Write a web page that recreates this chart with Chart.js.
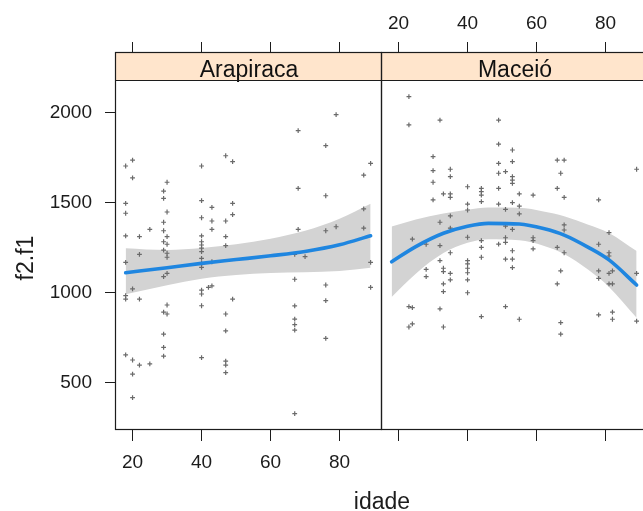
<!DOCTYPE html>
<html><head><meta charset="utf-8">
<script src="https://cdn.jsdelivr.net/npm/chart.js@4.4.1/dist/chart.umd.min.js"></script>
<style>
html,body{margin:0;padding:0;background:#fff;overflow:hidden;width:643px;height:511px}
#wrap{position:relative;width:643px;height:511px;overflow:hidden;background:#fff}
#c{position:absolute;left:0;top:0;width:660px;height:511px}
</style></head>
<body><div id="wrap"><canvas id="c" width="660" height="511"></canvas></div>
<script>
// ---------- data ----------
const panelNames = ['Arapiraca', 'Maceió'];
const xTicks = [20, 40, 60, 80];
const yTicks = [500, 1000, 1500, 2000];
const xTitle = 'idade';
const yTitle = 'f2.f1';

const ageArapiraca = [79,68,76,47,49,20,18,40,89,20,87,30,68,29,29,76,18,40,49,43,18,30,49,87,40,43,47,29,25,29,43,18,22,30,40,47,68,76,79,87,29,30,40,40,40,40,47,22,29,30,30,40,40,40,43,67,70,18,29,30,89,67,76,89,20,40,40,42,43,18,18,22,49,76,40,30,67,29,30,47,67,67,67,47,29,76,29,29,18,20,22,25,40,47,47,47,20,20,67];
const f2f1Arapiraca = [1987,1898,1815,1759,1726,1735,1702,1702,1717,1636,1652,1612,1578,1563,1523,1537,1495,1510,1495,1473,1440,1447,1432,1464,1415,1397,1397,1390,1351,1343,1351,1315,1310,1310,1315,1310,1351,1343,1365,1357,1282,1268,1282,1264,1246,1227,1260,1212,1236,1218,1196,1190,1162,1140,1171,1212,1199,1168,1088,1107,1168,1074,1042,1029,1020,1014,992,1029,1037,983,964,964,964,955,927,931,926,892,881,881,853,822,792,787,769,746,696,647,654,626,597,604,639,620,598,556,548,417,328];

const ageMaceio = [23,23,32,49,49,53,30,30,30,30,35,35,33,35,35,49,53,49,51,53,53,53,66,68,67,66,68,40,44,44,44,40,40,44,49,49,51,53,55,55,55,59,78,89,35,32,24,28,35,40,44,44,44,49,51,53,51,51,53,53,51,53,59,59,59,66,68,68,68,32,35,32,33,33,35,35,28,28,33,33,40,40,40,40,40,40,67,66,81,78,81,81,78,78,81,82,81,82,89,23,24,32,23,24,33,44,51,55,67,67,78,82,82,89];
const f2f1Maceio = [2087,1930,1957,1957,1824,1791,1754,1676,1612,1514,1684,1643,1547,1547,1528,1717,1726,1662,1671,1643,1624,1606,1735,1735,1662,1578,1528,1587,1578,1560,1541,1491,1458,1504,1578,1491,1462,1499,1547,1480,1436,1541,1514,1684,1425,1390,1296,1268,1357,1307,1288,1251,1196,1269,1369,1351,1304,1279,1232,1185,1185,1138,1304,1288,1242,1251,1375,1347,1221,1260,1221,1177,1135,1116,1107,1070,1129,1088,1048,1005,1177,1159,1135,1110,1070,999,1120,1048,1332,1268,1221,1203,1120,1079,1107,1120,1048,1048,1107,922,916,909,809,826,809,866,922,852,833,769,876,892,852,842];

const fitAgeArapiraca = [18,30,40,50,60,70,80,89];
const fitArapiraca   = [1110,1138,1162,1183,1204,1228,1265,1315];
const upperArapiraca = [1246,1236,1247,1268,1299,1343,1410,1493];
const lowerArapiraca = [990,1040,1077,1098,1109,1113,1120,1137];

const fitAgeMaceio = [18,25,33,40,46,55,62,68,75,81,89];
const fitMaceio    = [1171,1255,1329,1368,1384,1380,1355,1319,1251,1181,1042];
const upperMaceio  = [1366,1405,1439,1460,1472,1470,1450,1424,1376,1331,1230];
const lowerMaceio  = [976,1105,1219,1276,1296,1290,1260,1214,1126,1031,860];

// ---------- styles ----------
const FONT = "'Liberation Sans', Arial, Helvetica, sans-serif";
const INK = '#1c1c1c';
const POINT = '#6a6a6a';
const LINE = '#1f86e0';
const BAND = '#d3d3d3';
const STRIP = '#ffe5cc';
const STRIP_H = 28;

const pts = (xs, ys) => xs.map((x, i) => ({x: x, y: ys[i]}));

function pointSet(xs, ys, axis) {
  return {type: 'scatter', data: pts(xs, ys), xAxisID: axis, yAxisID: 'y', order: 2,
    pointStyle: 'cross', pointRadius: 2.4, pointBorderWidth: 1.2, pointBorderColor: POINT,
    pointBackgroundColor: POINT, showLine: false};
}
function bandSet(xs, ys, axis, fill) {
  return {type: 'line', data: pts(xs, ys), xAxisID: axis, yAxisID: 'y', order: 3,
    borderWidth: 0, borderColor: BAND, backgroundColor: BAND, pointRadius: 0,
    tension: 0.4, cubicInterpolationMode: 'monotone', fill: fill};
}
function lineSet(xs, ys, axis) {
  return {type: 'line', data: pts(xs, ys), xAxisID: axis, yAxisID: 'y', order: 1,
    borderWidth: 3.6, borderColor: LINE, pointRadius: 0, fill: false,
    cubicInterpolationMode: 'monotone', borderCapStyle: 'round'};
}

function xScale(pos, stack, showLabels, pad, weight) {
  return {
    type: 'linear', position: pos, stack: stack, weight: weight, min: 15.2, max: 92.3,
    afterBuildTicks: s => { s.ticks = xTicks.map(v => ({value: v})); },
    afterFit: s => { s.height = pos === 'top' ? 53 : 81; },
    grid: {display: true, drawOnChartArea: false, drawTicks: true, tickLength: 11, color: INK, lineWidth: 1},
    border: {display: false},
    ticks: {display: true, color: showLabels ? INK : 'rgba(0,0,0,0)', font: {family: FONT, size: 19},
      padding: pad, maxRotation: 0, minRotation: 0, autoSkip: false, callback: v => String(v)}
  };
}

const panelAxes = ['xA', 'xB'];

const panelPlugin = {
  id: 'panels',
  afterDatasetsDraw(chart) {
    const ctx = chart.ctx;
    const top = chart.chartArea.top;
    ctx.save();
    panelAxes.forEach((id, i) => {
      const sc = chart.scales[id];
      ctx.fillStyle = STRIP;
      ctx.fillRect(sc.left, top, sc.right - sc.left, STRIP_H);
      ctx.fillStyle = '#111';
      ctx.font = '23px ' + FONT;
      ctx.textAlign = 'center';
      ctx.textBaseline = 'alphabetic';
      ctx.fillText(panelNames[i], (sc.left + sc.right) / 2, top + 24);
    });
    ctx.restore();
  },
  afterDraw(chart) {
    const ctx = chart.ctx;
    const {top, bottom} = chart.chartArea;
    ctx.save();
    ctx.strokeStyle = INK;
    ctx.lineWidth = 1.2;
    panelAxes.forEach(id => {
      const sc = chart.scales[id];
      const l = Math.round(sc.left) - 0.5, r = Math.round(sc.right) - 0.5;
      ctx.strokeRect(l, top - 0.5, r - l, bottom - top);
      ctx.beginPath();
      ctx.moveTo(l, top + STRIP_H - 0.5);
      ctx.lineTo(r, top + STRIP_H - 0.5);
      ctx.stroke();
    });
    ctx.fillStyle = INK;
    ctx.font = '23px ' + FONT;
    ctx.textAlign = 'center';
    ctx.textBaseline = 'alphabetic';
    const midX = chart.scales.xA.right;
    ctx.fillText(xTitle, midX, 509);
    ctx.translate(33, 258);
    ctx.rotate(-Math.PI / 2);
    ctx.fillText(yTitle, 0, 0);
    ctx.restore();
  }
};

new Chart(document.getElementById('c'), {
  type: 'scatter',
  data: {
    datasets: [
      bandSet(fitAgeArapiraca, upperArapiraca, 'xA', '+1'),
      bandSet(fitAgeArapiraca, lowerArapiraca, 'xA', false),
      pointSet(ageArapiraca, f2f1Arapiraca, 'xA'),
      lineSet(fitAgeArapiraca, fitArapiraca, 'xA'),
      bandSet(fitAgeMaceio, upperMaceio, 'xB', '+1'),
      bandSet(fitAgeMaceio, lowerMaceio, 'xB', false),
      pointSet(ageMaceio, f2f1Maceio, 'xB'),
      lineSet(fitAgeMaceio, fitMaceio, 'xB')
    ]
  },
  options: {
    responsive: false,
    maintainAspectRatio: false,
    animation: false,
    devicePixelRatio: 1,
    layout: {padding: {left: 0, right: 12, top: 0, bottom: 0}},
    plugins: {legend: {display: false}, tooltip: {enabled: false}, title: {display: false}},
    scales: {
      xA: xScale('bottom', 'bottomAxes', true, 10, 0),
      xB: xScale('bottom', 'bottomAxes', false, 10, 0),
      xAt: xScale('top', 'topAxes', false, 7, 1),
      xBt: xScale('top', 'topAxes', true, 7, 0),
      y: {
        type: 'linear', position: 'left', min: 237.6, max: 2329,
        afterBuildTicks: s => { s.ticks = yTicks.map(v => ({value: v})); },
        afterFit: s => { s.width = 116; },
        grid: {display: true, drawOnChartArea: false, drawTicks: true, tickLength: 11, color: INK, lineWidth: 1},
        border: {display: false},
        ticks: {color: INK, font: {family: FONT, size: 19}, padding: 13, callback: v => String(v)}
      }
    }
  },
  plugins: [panelPlugin]
});
</script></body></html>
